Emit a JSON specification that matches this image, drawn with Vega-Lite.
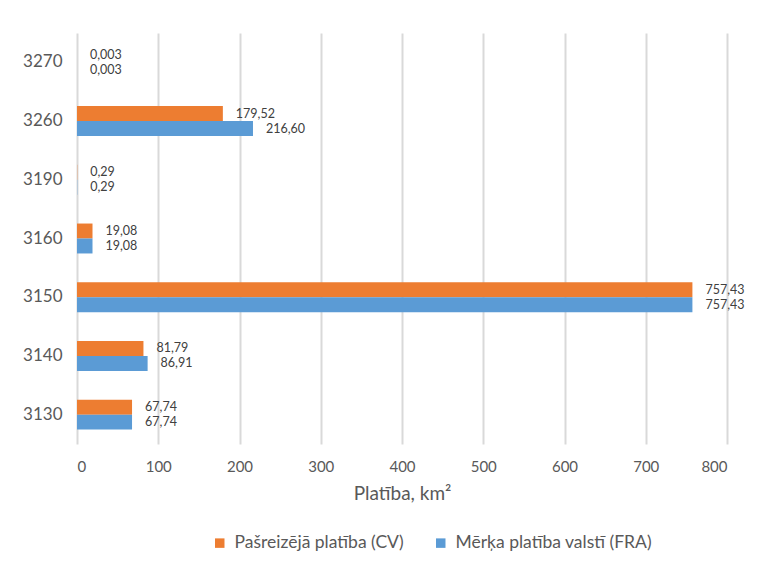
{
  "$schema": "https://vega.github.io/schema/vega-lite/v6.json",
  "width": 650,
  "height": 411,
  "autosize": {"type": "none"},
  "padding": {"left": 77, "top": 33, "right": 33, "bottom": 127},
  "background": "white",
  "config": {
    "font": "Lato",
    "view": {"stroke": null}
  },
  "data": {
    "values": [
      {"code": "3270", "series": "Pašreizējā platība (CV)", "value": 0.003, "label": "0,003"},
      {"code": "3270", "series": "Mērķa platība valstī (FRA)", "value": 0.003, "label": "0,003"},
      {"code": "3260", "series": "Pašreizējā platība (CV)", "value": 179.52, "label": "179,52"},
      {"code": "3260", "series": "Mērķa platība valstī (FRA)", "value": 216.60, "label": "216,60"},
      {"code": "3190", "series": "Pašreizējā platība (CV)", "value": 0.29, "label": "0,29"},
      {"code": "3190", "series": "Mērķa platība valstī (FRA)", "value": 0.29, "label": "0,29"},
      {"code": "3160", "series": "Pašreizējā platība (CV)", "value": 19.08, "label": "19,08"},
      {"code": "3160", "series": "Mērķa platība valstī (FRA)", "value": 19.08, "label": "19,08"},
      {"code": "3150", "series": "Pašreizējā platība (CV)", "value": 757.43, "label": "757,43"},
      {"code": "3150", "series": "Mērķa platība valstī (FRA)", "value": 757.43, "label": "757,43"},
      {"code": "3140", "series": "Pašreizējā platība (CV)", "value": 81.79, "label": "81,79"},
      {"code": "3140", "series": "Mērķa platība valstī (FRA)", "value": 86.91, "label": "86,91"},
      {"code": "3130", "series": "Pašreizējā platība (CV)", "value": 67.74, "label": "67,74"},
      {"code": "3130", "series": "Mērķa platība valstī (FRA)", "value": 67.74, "label": "67,74"}
    ]
  },
  "encoding": {
    "y": {
      "field": "code",
      "type": "nominal",
      "sort": "descending",
      "scale": {"paddingInner": 0.49, "paddingOuter": 0.245},
      "axis": {
        "title": null,
        "ticks": false,
        "domain": false,
        "grid": false,
        "labelPadding": 15,
        "labelFontSize": 17,
        "labelColor": "#595959"
      }
    },
    "yOffset": {
      "field": "series",
      "type": "nominal",
      "sort": ["Pašreizējā platība (CV)", "Mērķa platība valstī (FRA)"]
    },
    "x": {
      "field": "value",
      "type": "quantitative",
      "scale": {"domain": [0, 800], "nice": false},
      "axis": {
        "values": [0, 100, 200, 300, 400, 500, 600, 700, 800],
        "title": "Platība, km²",
        "grid": true,
        "gridColor": "#d9d9d9",
        "gridWidth": 2,
        "domain": false,
        "ticks": false,
        "labelPadding": 15,
        "labelFontSize": 15,
        "labelColor": "#595959",
        "titleFont": "Lato",
        "titleFontSize": 19,
        "titleFontWeight": "normal",
        "titleColor": "#595959",
        "titlePadding": 10
      }
    }
  },
  "layer": [
    {
      "mark": {"type": "bar"},
      "encoding": {
        "color": {
          "field": "series",
          "type": "nominal",
          "scale": {
            "domain": ["Pašreizējā platība (CV)", "Mērķa platība valstī (FRA)"],
            "range": ["#ED7D31", "#5B9BD5"]
          },
          "legend": {
            "title": null,
            "orient": "none",
            "legendX": 134,
            "legendY": 501,
            "direction": "horizontal",
            "symbolType": "square",
            "symbolSize": 90,
            "symbolStrokeWidth": 0,
            "labelFontSize": 17.5,
            "labelColor": "#595959",
            "labelOffset": 6,
            "labelLimit": 400,
            "columnPadding": 28
          }
        }
      }
    },
    {
      "mark": {"type": "text", "align": "left", "baseline": "middle", "dx": 13, "fontSize": 12.5, "color": "#404040"},
      "encoding": {
        "text": {"field": "label", "type": "nominal"}
      }
    }
  ]
}
